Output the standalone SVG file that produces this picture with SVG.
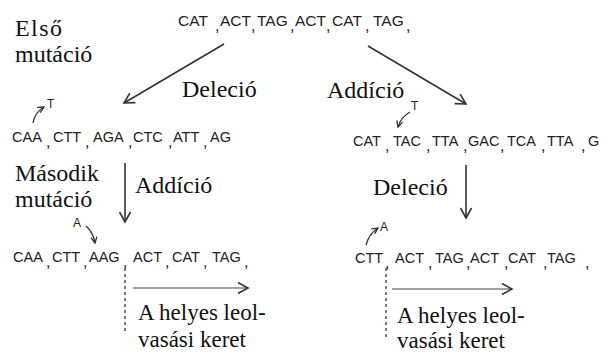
<svg xmlns="http://www.w3.org/2000/svg" width="613" height="352" viewBox="0 0 613 352">
<defs>
<marker id="ah" markerWidth="13" markerHeight="13" refX="11" refY="6.5" orient="auto" markerUnits="userSpaceOnUse">
<path d="M1,1 L11,6.5 L1,12" fill="none" stroke="#333" stroke-width="1.6"/>
</marker>
<marker id="sh" markerWidth="8" markerHeight="8" refX="7" refY="4" orient="auto" markerUnits="userSpaceOnUse">
<path d="M1,1 L7,4 L1,7" fill="none" stroke="#333" stroke-width="1.3"/>
</marker>
<style>
.arr{stroke:#333;stroke-width:1.6;fill:none;marker-end:url(#ah)}
.sarr{stroke:#333;stroke-width:1.3;fill:none;marker-end:url(#sh)}
.dash{stroke:#333;stroke-width:1.3;stroke-dasharray:3,3;fill:none}
.read{stroke:#444;stroke-width:1.2;fill:none;marker-end:url(#ah)}
.lab{font-family:'Liberation Serif','Times New Roman',serif;font-size:24px;fill:#111}
.rf{font-size:23px}
.seq{font-family:'Liberation Sans',Arial,sans-serif;fill:#222}
</style>
</defs>
<rect width="613" height="352" fill="#fff"/>

<g id="labels">
<text class="lab" x="15" y="36" textLength="47" lengthAdjust="spacing">Első</text>
<text class="lab" x="15" y="62">mutáció</text>
<text class="lab" x="15" y="181">Második</text>
<text class="lab" x="15" y="207">mutáció</text>
</g>

<g id="seq-top" class="seq">
<text font-size="15.5" y="26"><tspan x="178">CAT</tspan><tspan x="220">ACT</tspan><tspan x="257">TAG</tspan><tspan x="295">ACT</tspan><tspan x="332">CAT</tspan><tspan x="373">TAG</tspan></text>
<text font-size="16" y="31"><tspan x="215">,</tspan><tspan x="251">,</tspan><tspan x="290">,</tspan><tspan x="326">,</tspan><tspan x="365">,</tspan><tspan x="406">,</tspan></text>
</g>

<g id="seq-left2" class="seq">
<text font-size="12" x="47" y="108">T</text>
<text font-size="14.5" y="142"><tspan x="12">CAA</tspan><tspan x="53">CTT</tspan><tspan x="93">AGA</tspan><tspan x="133">CTC</tspan><tspan x="173">ATT</tspan><tspan x="210">AG</tspan></text>
<text font-size="16" y="147"><tspan x="46">,</tspan><tspan x="85">,</tspan><tspan x="128">,</tspan><tspan x="168">,</tspan><tspan x="203">,</tspan></text>
</g>

<g id="seq-right2" class="seq">
<text font-size="12" x="411" y="110">T</text>
<text font-size="14.5" y="146"><tspan x="353">CAT</tspan><tspan x="393">TAC</tspan><tspan x="432">TTA</tspan><tspan x="468">GAC</tspan><tspan x="507">TCA</tspan><tspan x="547">TTA</tspan><tspan x="588">G</tspan></text>
<text font-size="16" y="151"><tspan x="385">,</tspan><tspan x="426">,</tspan><tspan x="463">,</tspan><tspan x="500">,</tspan><tspan x="541">,</tspan><tspan x="581">,</tspan></text>
</g>

<g id="seq-left3">
<g class="seq">
<text font-size="12" x="73" y="227">A</text>
<text font-size="14.5" y="262"><tspan x="13">CAA</tspan><tspan x="52">CTT</tspan><tspan x="89">AAG</tspan><tspan x="133">ACT</tspan><tspan x="172">CAT</tspan><tspan x="212">TAG</tspan></text>
<text font-size="16" y="267"><tspan x="46">,</tspan><tspan x="83">,</tspan><tspan x="123">,</tspan><tspan x="165">,</tspan><tspan x="203">,</tspan><tspan x="244">,</tspan></text>
</g>
<text class="lab rf" x="138" y="320">A helyes leol-</text>
<text class="lab rf" x="138" y="347">vasási keret</text>
</g>

<g id="seq-right3">
<g class="seq">
<text font-size="12" x="380" y="231">A</text>
<text font-size="14.5" y="263"><tspan x="355">CTT</tspan><tspan x="395">ACT</tspan><tspan x="435">TAG</tspan><tspan x="470">ACT</tspan><tspan x="508">CAT</tspan><tspan x="547">TAG</tspan></text>
<text font-size="16" y="268"><tspan x="385">,</tspan><tspan x="428">,</tspan><tspan x="466">,</tspan><tspan x="504">,</tspan><tspan x="543">,</tspan><tspan x="585">,</tspan></text>
</g>
<text class="lab rf" x="397" y="323">A helyes leol-</text>
<text class="lab rf" x="397" y="348">vasási keret</text>
</g>

<g id="connectors">
<line class="arr" x1="224" y1="44" x2="124" y2="103"/>
<line class="arr" x1="368" y1="46" x2="466" y2="104"/>
<line class="arr" x1="125" y1="163" x2="125" y2="222"/>
<line class="arr" x1="466" y1="165" x2="466" y2="218"/>
<path class="sarr" d="M33,123 Q35,112 44,107"/>
<path class="sarr" d="M410,112 Q401,117 398,127"/>
<path class="sarr" d="M86,226 Q93,232 95,243"/>
<path class="sarr" d="M366,245 Q369,234 378,228"/>
<line class="dash" x1="125" y1="268" x2="125" y2="334"/>
<line class="dash" x1="386" y1="268" x2="386" y2="338"/>
<line class="read" x1="133" y1="288" x2="248" y2="288"/>
<line class="read" x1="392" y1="289" x2="512" y2="289"/>
<text class="lab" x="182" y="97">Deleció</text>
<text class="lab" x="327" y="98">Addíció</text>
<text class="lab" x="135" y="193">Addíció</text>
<text class="lab" x="373" y="195">Deleció</text>
</g>
</svg>
